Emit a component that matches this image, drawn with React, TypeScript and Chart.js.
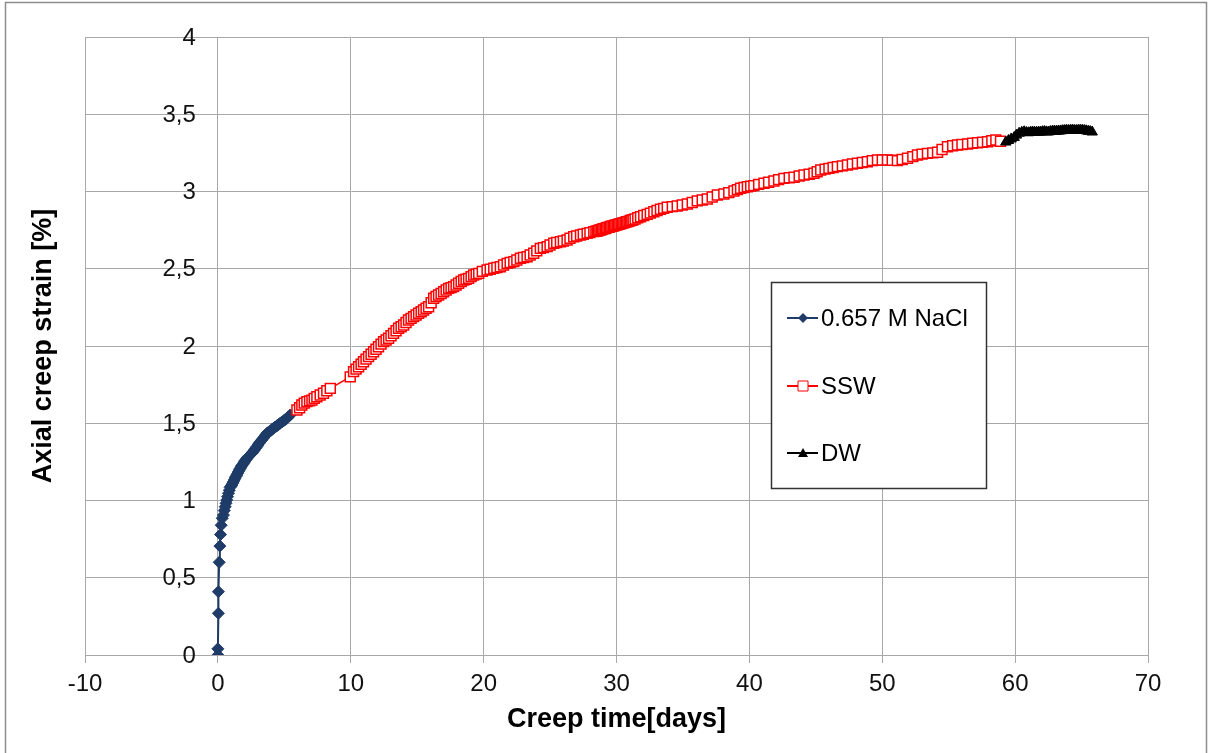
import React, { useEffect, useRef } from 'react';
import { Chart, registerables } from 'chart.js';

Chart.register(...registerables);

// ---------- data ----------
const seriesNames = ['0.657 M NaCl', 'SSW', 'DW'];
const xTitle = 'Creep time[days]';
const yTitle = 'Axial creep strain [%]';

const naclX = [0, 0, 0.04, 0.04, 0.1, 0.15, 0.2, 0.25, 0.33, 0.42, 0.48, 0.55, 0.61, 0.67, 0.73, 0.8, 0.86, 0.92, 0.98, 1.05, 1.11, 1.17, 1.24, 1.3, 1.36, 1.42, 1.49, 1.55, 1.62, 1.68, 1.74, 1.8, 1.87, 1.93, 1.99, 2.05, 2.12, 2.18, 2.27, 2.37, 2.46, 2.56, 2.65, 2.75, 2.84, 2.93, 3.02, 3.1, 3.2, 3.31, 3.4, 3.5, 3.6, 3.69, 3.82, 3.95, 4.06, 4.18, 4.32, 4.45, 4.57, 4.69, 4.82, 4.95, 5.07, 5.19, 5.31, 5.44];
const naclY = [0, 0.04, 0.27, 0.41, 0.6, 0.705, 0.78, 0.84, 0.885, 0.906, 0.935, 0.96, 0.982, 1.003, 1.025, 1.047, 1.066, 1.085, 1.092, 1.1, 1.111, 1.122, 1.134, 1.145, 1.155, 1.165, 1.176, 1.187, 1.198, 1.208, 1.217, 1.225, 1.233, 1.241, 1.249, 1.257, 1.265, 1.273, 1.282, 1.29, 1.298, 1.306, 1.316, 1.327, 1.338, 1.348, 1.359, 1.37, 1.381, 1.392, 1.402, 1.413, 1.424, 1.435, 1.443, 1.45, 1.459, 1.467, 1.476, 1.484, 1.492, 1.5, 1.508, 1.516, 1.524, 1.532, 1.542, 1.553];

const sswX = [5.95, 6.15, 6.32, 6.5, 6.7, 6.9, 7.08, 7.25, 7.45, 7.7, 7.95, 8.2, 8.46, 9.96, 10.21, 10.4, 10.59, 10.78, 10.96, 11.15, 11.34, 11.53, 11.72, 11.9, 12.09, 12.28, 12.47, 12.66, 12.85, 13.03, 13.22, 13.41, 13.6, 13.79, 13.98, 14.16, 14.35, 14.54, 14.73, 14.92, 15.11, 15.3, 15.48, 15.67, 15.86, 16.05, 16.24, 16.42, 16.61, 16.8, 16.99, 17.18, 17.37, 17.55, 17.74, 17.93, 18.12, 18.31, 18.5, 18.68, 18.87, 19.06, 19.25, 19.44, 19.63, 19.9, 20.26, 20.5, 20.76, 21.0, 21.26, 21.5, 21.77, 22.0, 22.27, 22.5, 22.77, 23.0, 23.27, 23.5, 23.77, 24.0, 24.27, 24.5, 24.78, 25.0, 25.28, 25.5, 25.78, 26.0, 26.28, 26.5, 26.78, 27.0, 27.29, 27.5, 27.79, 28.0, 28.29, 28.45, 28.55, 28.65, 28.75, 28.85, 28.95, 29.05, 29.15, 29.25, 29.35, 29.45, 29.55, 29.65, 29.75, 29.85, 29.95, 30.05, 30.15, 30.25, 30.35, 30.45, 30.55, 30.65, 30.75, 30.85, 30.95, 31.05, 31.15, 31.25, 31.4, 31.6, 31.81, 32.05, 32.31, 32.55, 32.81, 33.05, 33.31, 33.55, 33.82, 34.2, 34.57, 34.95, 35.33, 35.7, 36.08, 36.45, 36.83, 37.2, 37.59, 38.08, 38.45, 38.84, 39.1, 39.34, 39.6, 39.85, 40.1, 40.34, 40.7, 41.1, 41.45, 41.85, 42.2, 42.6, 43.0, 43.36, 43.75, 44.11, 44.5, 44.86, 45.1, 45.37, 45.7, 45.99, 46.3, 46.62, 47.0, 47.38, 47.75, 48.13, 48.5, 48.88, 49.25, 49.64, 50.0, 50.39, 50.75, 51.14, 51.5, 51.9, 52.3, 52.65, 53.0, 53.4, 53.8, 54.16, 54.5, 54.91, 55.3, 55.66, 56.0, 56.42, 56.8, 57.17, 57.55, 57.92, 58.25, 58.55, 58.9];
const sswY = [1.586, 1.6, 1.618, 1.63, 1.64, 1.645, 1.65, 1.661, 1.672, 1.683, 1.694, 1.71, 1.726, 1.8, 1.834, 1.85, 1.866, 1.882, 1.898, 1.915, 1.931, 1.947, 1.963, 1.979, 1.995, 2.012, 2.028, 2.039, 2.05, 2.066, 2.082, 2.099, 2.115, 2.125, 2.136, 2.152, 2.168, 2.179, 2.19, 2.201, 2.212, 2.222, 2.233, 2.244, 2.254, 2.28, 2.309, 2.32, 2.33, 2.34, 2.351, 2.362, 2.373, 2.378, 2.384, 2.395, 2.406, 2.417, 2.427, 2.432, 2.438, 2.449, 2.46, 2.465, 2.47, 2.483, 2.492, 2.497, 2.503, 2.508, 2.513, 2.524, 2.535, 2.54, 2.546, 2.557, 2.568, 2.573, 2.578, 2.589, 2.6, 2.616, 2.632, 2.637, 2.643, 2.654, 2.665, 2.67, 2.675, 2.68, 2.686, 2.697, 2.707, 2.712, 2.718, 2.723, 2.729, 2.734, 2.74, 2.743, 2.744, 2.748, 2.751, 2.752, 2.757, 2.76, 2.761, 2.765, 2.768, 2.769, 2.773, 2.775, 2.776, 2.78, 2.783, 2.784, 2.788, 2.79, 2.792, 2.796, 2.797, 2.8, 2.804, 2.805, 2.808, 2.812, 2.814, 2.817, 2.822, 2.83, 2.837, 2.845, 2.852, 2.86, 2.869, 2.877, 2.885, 2.891, 2.898, 2.902, 2.906, 2.913, 2.919, 2.929, 2.939, 2.945, 2.951, 2.964, 2.977, 2.984, 2.993, 3.003, 3.012, 3.021, 3.026, 3.031, 3.035, 3.038, 3.046, 3.053, 3.06, 3.068, 3.077, 3.085, 3.089, 3.092, 3.1, 3.107, 3.112, 3.118, 3.128, 3.139, 3.145, 3.15, 3.155, 3.161, 3.166, 3.172, 3.178, 3.183, 3.188, 3.193, 3.2, 3.204, 3.204, 3.204, 3.202, 3.2, 3.207, 3.215, 3.226, 3.236, 3.242, 3.247, 3.25, 3.254, 3.272, 3.29, 3.296, 3.301, 3.304, 3.307, 3.312, 3.316, 3.319, 3.322, 3.328, 3.333, 3.325];

const dwX = [59.3, 59.5, 59.7, 59.93, 60.1, 60.3, 60.5, 60.68, 60.85, 61.0, 61.15, 61.3, 61.45, 61.6, 61.75, 61.9, 62.05, 62.2, 62.35, 62.5, 62.65, 62.8, 62.95, 63.1, 63.25, 63.4, 63.55, 63.7, 63.85, 64.0, 64.15, 64.3, 64.45, 64.6, 64.75, 64.9, 65.05, 65.2, 65.35, 65.5, 65.65, 65.8];
const dwY = [3.32, 3.33, 3.34, 3.35, 3.365, 3.377, 3.383, 3.387, 3.382, 3.38, 3.383, 3.385, 3.384, 3.383, 3.384, 3.385, 3.387, 3.388, 3.386, 3.385, 3.388, 3.39, 3.391, 3.39, 3.391, 3.392, 3.394, 3.395, 3.396, 3.395, 3.396, 3.397, 3.396, 3.395, 3.396, 3.397, 3.396, 3.395, 3.393, 3.39, 3.388, 3.385];

const xMin = -10, xMax = 70, xStep = 10;
const yMin = 0, yMax = 4, yStep = 0.5;

// ---------- styles ----------
const FONT = "'Liberation Sans', Arial, sans-serif";
const GRID = '#a8a8a8';
const BLUE = '#1f3b68';
const RED = '#ff0000';
const BLACK = '#000000';

const toPoints = (xs: number[], ys: number[]) => xs.map((x, i) => ({ x, y: ys[i] }));

const framePlugin = {
  id: 'outerFrame',
  afterDraw(chart: any) {
    const ctx = chart.ctx;
    ctx.save();
    ctx.strokeStyle = '#8c8c8c';
    ctx.lineWidth = 1.5;
    ctx.strokeRect(5.5, 2.5, 1201, 752);
    ctx.restore();
  },
};

// y tick labels sit next to the y axis, which crosses at x = 0
const yLabelPlugin = {
  id: 'yLabelsAtZero',
  afterDraw(chart: any) {
    const ctx = chart.ctx;
    const xs = chart.scales.x;
    const ys = chart.scales.y;
    const xAt = xs.getPixelForValue(0) - 22;
    ctx.save();
    ctx.fillStyle = '#111111';
    ctx.font = `24px ${FONT}`;
    ctx.textAlign = 'right';
    ctx.textBaseline = 'middle';
    ys.ticks.forEach((t: any) => {
      ctx.fillText(String(t.value).replace('.', ','), xAt, ys.getPixelForValue(t.value) + 1);
    });
    ctx.restore();
  },
};

const legendPlugin = {
  id: 'boxLegend',
  afterDraw(chart: any) {
    const ctx = chart.ctx;
    const box = { x: 771.5, y: 282.5, w: 215, h: 206 };
    const rows = [318, 386, 453];
    ctx.save();
    ctx.fillStyle = '#ffffff';
    ctx.fillRect(box.x, box.y, box.w, box.h);
    ctx.strokeStyle = '#333333';
    ctx.lineWidth = 1.5;
    ctx.strokeRect(box.x, box.y, box.w, box.h);
    chart.data.datasets.forEach((ds: any, i: number) => {
      const y = rows[i];
      const x0 = 787, x1 = 818, cx = 803;
      ctx.strokeStyle = ds.borderColor;
      ctx.lineWidth = 2;
      ctx.beginPath();
      ctx.moveTo(x0, y);
      ctx.lineTo(x1, y);
      ctx.stroke();
      ctx.fillStyle = ds.pointBackgroundColor;
      ctx.strokeStyle = ds.pointBorderColor;
      ctx.lineWidth = 1;
      ctx.beginPath();
      if (ds.pointStyle === 'rectRot') {
        ctx.moveTo(cx, y - 5);
        ctx.lineTo(cx + 5, y);
        ctx.lineTo(cx, y + 5);
        ctx.lineTo(cx - 5, y);
        ctx.closePath();
        ctx.fill();
      } else if (ds.pointStyle === 'rect') {
        ctx.rect(cx - 5, y - 5, 10, 10);
        ctx.fill();
        ctx.stroke();
      } else {
        ctx.moveTo(cx, y - 5);
        ctx.lineTo(cx + 5, y + 4);
        ctx.lineTo(cx - 5, y + 4);
        ctx.closePath();
        ctx.fill();
      }
      ctx.fillStyle = '#000000';
      ctx.font = `24px ${FONT}`;
      ctx.textAlign = 'left';
      ctx.textBaseline = 'middle';
      ctx.fillText(ds.label, 821, y + 1);
    });
    ctx.restore();
  },
};

export default function App() {
  const ref = useRef<HTMLCanvasElement | null>(null);

  useEffect(() => {
    if (!ref.current) return;
    const chart = new Chart(ref.current, {
      type: 'scatter',
      data: {
        datasets: [
          {
            label: seriesNames[0],
            data: toPoints(naclX, naclY),
            showLine: true,
            borderColor: BLUE,
            borderWidth: 2,
            pointStyle: 'rectRot',
            pointRadius: 6,
            pointBackgroundColor: BLUE,
            pointBorderColor: BLUE,
            pointBorderWidth: 1,
            order: 3,
          },
          {
            label: seriesNames[1],
            data: toPoints(sswX, sswY),
            showLine: true,
            borderColor: RED,
            borderWidth: 1.5,
            pointStyle: 'rect',
            pointRadius: 7,
            pointBackgroundColor: '#ffffff',
            pointBorderColor: RED,
            pointBorderWidth: 1.5,
            order: 2,
          },
          {
            label: seriesNames[2],
            data: toPoints(dwX, dwY),
            showLine: true,
            borderColor: BLACK,
            borderWidth: 2,
            pointStyle: 'triangle',
            pointRadius: 6,
            pointBackgroundColor: BLACK,
            pointBorderColor: BLACK,
            pointBorderWidth: 1,
            order: 1,
          },
        ] as any,
      },
      options: {
        responsive: false,
        animation: false,
        devicePixelRatio: 1,
        layout: { padding: { top: 37, right: 60, left: 0, bottom: 0 } },
        plugins: { legend: { display: false }, tooltip: { enabled: false } },
        scales: {
          x: {
            type: 'linear',
            min: xMin,
            max: xMax,
            afterFit: (s: any) => { s.height = 98; },
            ticks: { stepSize: xStep, color: '#111111', font: { family: FONT, size: 24 }, padding: 7, maxRotation: 0 },
            grid: { color: GRID, tickLength: 8, drawTicks: true, lineWidth: 1 },
            border: { color: GRID },
            title: {
              display: true,
              text: xTitle,
              color: '#000000',
              font: { family: FONT, size: 27, weight: 'bold' },
              padding: { top: 0, bottom: 17 },
            },
          },
          y: {
            type: 'linear',
            min: yMin,
            max: yMax,
            afterFit: (s: any) => { s.width = 85; },
            ticks: { stepSize: yStep, display: false },
            grid: { color: GRID, drawTicks: false, lineWidth: 1 },
            border: { color: GRID },
            title: {
              display: true,
              text: yTitle,
              color: '#000000',
              font: { family: FONT, size: 27, weight: 'bold' },
              padding: { top: 27, bottom: 0 },
            },
          },
        },
      } as any,
      plugins: [framePlugin, yLabelPlugin, legendPlugin],
    });
    return () => chart.destroy();
  }, []);

  return (
    <div style={{ position: 'fixed', left: 0, top: 0, width: 1208, height: 753, background: '#ffffff' }}>
      <canvas ref={ref} width={1208} height={753} style={{ display: 'block' }} />
    </div>
  );
}
